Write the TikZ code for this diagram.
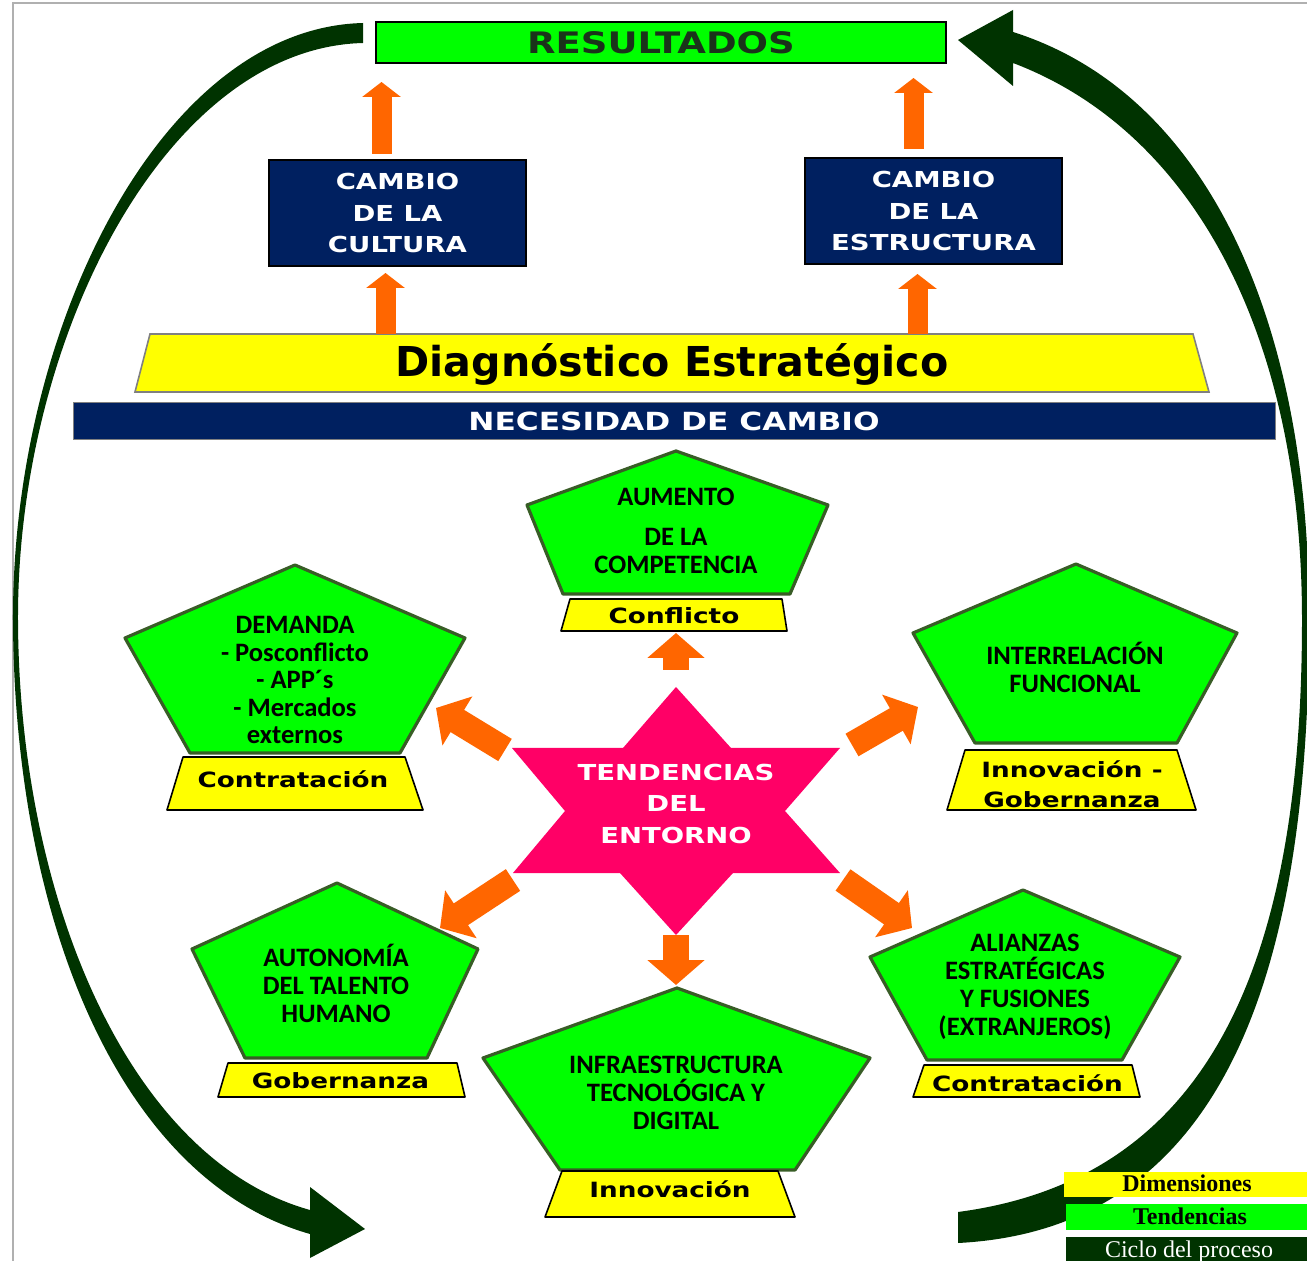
\documentclass[tikz,border=0pt]{standalone}
\usepackage{fontspec}
\setmainfont{Carlito}
\newfontfamily\anchafont{DejaVu Sans}[FakeStretch=1.25]
\newfontfamily\verdfont{DejaVu Sans}
\newfontfamily\romfont{Liberation Serif}
\usepackage{tikz}
\usetikzlibrary{arrows.meta}
\usepackage{xcolor}

\definecolor{verde}{HTML}{00FF00}
\definecolor{bordeverde}{HTML}{385D26}
\definecolor{amarillo}{HTML}{FFFF00}
\definecolor{azul}{HTML}{002060}
\definecolor{naranja}{HTML}{FF6600}
\definecolor{rosa}{HTML}{FF0066}
\definecolor{arco}{HTML}{003300}
\definecolor{gris}{HTML}{808080}
\definecolor{marco}{HTML}{B0B0B0}
\definecolor{restexto}{HTML}{1A331A}

\tikzset{
  caja/.style={draw=black, line width=1pt, fill=azul, text=white, inner sep=0pt,
    align=center, font=\anchafont\bfseries\fontsize{11}{15.75}\selectfont},
  tendencia/.style={draw=bordeverde, line width=1.6pt, fill=verde, line join=round},
  dimension/.style={draw=black, line width=0.8pt, fill=amarillo, line join=round},
  tendtexto/.style={align=center, inner sep=0pt, font=\bfseries\fontsize{13.3}{14}\selectfont},
  dimtexto/.style={align=center, inner sep=0pt, font=\anchafont\bfseries\fontsize{10.5}{15}\selectfont},
  flecha/.style={draw=naranja, line width=10pt, -{Triangle[width=19pt,length=7.5pt]}},
  flechagruesa/.style={draw=naranja, line width=13pt, -{Triangle[width=28pt,length=12.5pt]}},
  leyenda/.style={anchor=base, inner sep=0pt, font=\romfont\fontsize{12}{14}\selectfont}
}

\begin{document}
\begin{tikzpicture}[x=0.5pt, y=-0.5pt]
  \useasboundingbox (0,0) rectangle (1307,1261);

  \draw[marco, line width=0.6pt] (13,1261) -- (13,3) -- (1307,3);

  \fill[arco] (363,23) .. controls (160,28) and (12,330) .. (13,620)
    .. controls (14,920) and (120,1180) .. (310,1234)
    -- (310,1258) -- (365,1229) -- (310,1187) -- (310,1210)
    .. controls (130,1160) and (19,900) .. (18,620)
    .. controls (17,340) and (165,48) .. (363,43) -- cycle;
  \fill[arco] (958,1212) .. controls (1200,1180) and (1302,980) .. (1302,620)
    .. controls (1302,330) and (1190,130) .. (1013,63)
    -- (1013,86) -- (958,40) -- (1013,10) -- (1013,32)
    .. controls (1212,95) and (1310,330) .. (1309,620)
    .. controls (1309,990) and (1215,1230) .. (958,1243) -- cycle;

  \node[draw=black, line width=1pt, fill=verde, text=restexto, inner sep=0pt,
    minimum width=285pt, minimum height=20.5pt,
    font=\anchafont\bfseries\fontsize{14.8}{16}\selectfont] (res) at (661,42.5) {RESULTADOS};
  \node[caja, minimum width=128.5pt, minimum height=53pt] (cultura) at (397.5,213)
    {CAMBIO\\DE LA\\CULTURA};
  \node[caja, minimum width=128.5pt, minimum height=53pt] (estructura) at (933.5,211)
    {CAMBIO\\DE LA\\ESTRUCTURA};

  \draw[flecha] (cultura.north) ++(-16,-5) -- ++(0,-72);
  \draw[flecha] (estructura.north) ++(-20,-8) -- ++(0,-71);

  \draw[draw=gris, line width=0.8pt, fill=amarillo]
    (150,334) -- (1193,334) -- (1209,392) -- (135,392) -- cycle;
  \node[anchor=base, inner sep=0pt, font=\verdfont\bfseries\fontsize{20.6}{24}\selectfont]
    (diag) at (672,377) {Diagnóstico Estratégico};

  \draw[flecha] (cultura.south) ++(-12,67) -- ++(0,-61);
  \draw[flecha] (estructura.south) ++(-16,69) -- ++(0,-60);

  \node[draw=gris, line width=0.5pt, fill=azul, text=white, inner sep=0pt,
    minimum width=601pt, minimum height=18.5pt,
    font=\anchafont\bfseries\fontsize{12.5}{14}\selectfont] (necesidad) at (674,421.5)
    {NECESIDAD DE CAMBIO};

  \coordinate (st-n) at (676,687);
  \coordinate (st-s) at (676,935);
  \coordinate (st-nw) at (512,748);
  \coordinate (st-ne) at (840,748);
  \coordinate (st-sw) at (513,873);
  \coordinate (st-se) at (840,873);
  \fill[rosa] (st-n) -- (731,748) -- (st-ne) -- (785,811) -- (st-se) -- (733,873)
    -- (st-s) -- (620,873) -- (st-sw) -- (565,811) -- (st-nw) -- (623,748) -- cycle;
  \node[caja, draw=none, fill=none] (tendencias) at (676,803.5) {TENDENCIAS\\DEL\\ENTORNO};

  \draw[flechagruesa] (st-n) ++(0,-17) -- ++(0,-37);
  \draw[flechagruesa] (st-s) -- ++(0,50);
  \draw[flechagruesa] (st-nw) ++(-7,2) -- ++(-69,-42);
  \draw[flechagruesa] (st-ne) ++(12,-3) -- ++(66,-38);
  \draw[flechagruesa] (st-sw) ++(0,7) -- ++(-73,48);
  \draw[flechagruesa] (st-se) ++(3,7) -- ++(69,48);

  \draw[tendencia] (676,451) -- (828,505) -- (790,594) -- (563,594) -- (527,505) -- cycle;
  \node[tendtexto] (competencia) at (676,531) {AUMENTO\\[6pt]DE LA\\COMPETENCIA};
  \draw[dimension] (570,599) -- (782,599) -- (787,631) -- (561,631) -- cycle;
  \node[dimtexto, anchor=base] (conflicto) at (674,624) {Conflicto};

  \draw[tendencia] (295,565) -- (465,638) -- (400,753) -- (190,753) -- (125,638) -- cycle;
  \node[tendtexto, font=\bfseries\fontsize{13.3}{13.75}\selectfont] (demanda) at (295,680)
    {DEMANDA\\- Posconflicto\\- APP´s\\- Mercados\\externos};
  \draw[dimension] (183,757) -- (405,757) -- (423,810) -- (167,810) -- cycle;
  \node[dimtexto, anchor=base] (contratacion-a) at (293,787) {Contratación};

  \draw[tendencia] (1076,564) -- (1237,633) -- (1177,743) -- (975,743) -- (913,633) -- cycle;
  \node[tendtexto] (interrelacion) at (1075,667) {INTERRELACIÓN\\FUNCIONAL};
  \draw[dimension] (965,750) -- (1177,750) -- (1196,810) -- (947,810) -- cycle;
  \node[dimtexto] (innov-gob) at (1072,784) {Innovación -\\Gobernanza};

  \draw[tendencia] (337,883) -- (478,949) -- (427,1058) -- (245,1058) -- (192,949) -- cycle;
  \node[tendtexto] (autonomia) at (336,983) {AUTONOMÍA\\DEL TALENTO\\HUMANO};
  \draw[dimension] (228,1063) -- (457,1063) -- (465,1097) -- (218,1097) -- cycle;
  \node[dimtexto, anchor=base] (gobernanza) at (340.5,1088) {Gobernanza};

  \draw[tendencia] (677,988) -- (870,1058) -- (795,1170) -- (560,1170) -- (483,1058) -- cycle;
  \node[tendtexto] (infraestructura) at (676,1092.5)
    {INFRAESTRUCTURA\\TECNOLÓGICA Y\\DIGITAL};
  \draw[dimension] (562,1171) -- (778,1171) -- (795,1217) -- (545,1217) -- cycle;
  \node[dimtexto, anchor=base] (innovacion) at (670,1197) {Innovación};

  \draw[tendencia] (1023,890) -- (1180,957) -- (1122,1060) -- (927,1060) -- (870,957) -- cycle;
  \node[tendtexto] (alianzas) at (1025,987)
    {ALIANZAS\\ESTRATÉGICAS\\Y FUSIONES\\(EXTRANJEROS)};
  \draw[dimension] (924,1065) -- (1132,1065) -- (1140,1097) -- (913,1097) -- cycle;
  \node[dimtexto, anchor=base] (contratacion-b) at (1027.5,1091) {Contratación};

  \fill[amarillo] (1064,1172) rectangle (1307,1197);
  \node[leyenda, font=\romfont\bfseries\fontsize{12}{14}\selectfont] (ley-dim) at (1187,1191) {Dimensiones};
  \fill[verde] (1066,1204) rectangle (1307,1230);
  \node[leyenda, font=\romfont\bfseries\fontsize{12}{14}\selectfont] (ley-tend) at (1190,1224) {Tendencias};
  \fill[arco] (1066,1237) rectangle (1307,1270);
  \node[leyenda, text=white] (ley-ciclo) at (1189,1257) {Ciclo del proceso};
\end{tikzpicture}
\end{document}
